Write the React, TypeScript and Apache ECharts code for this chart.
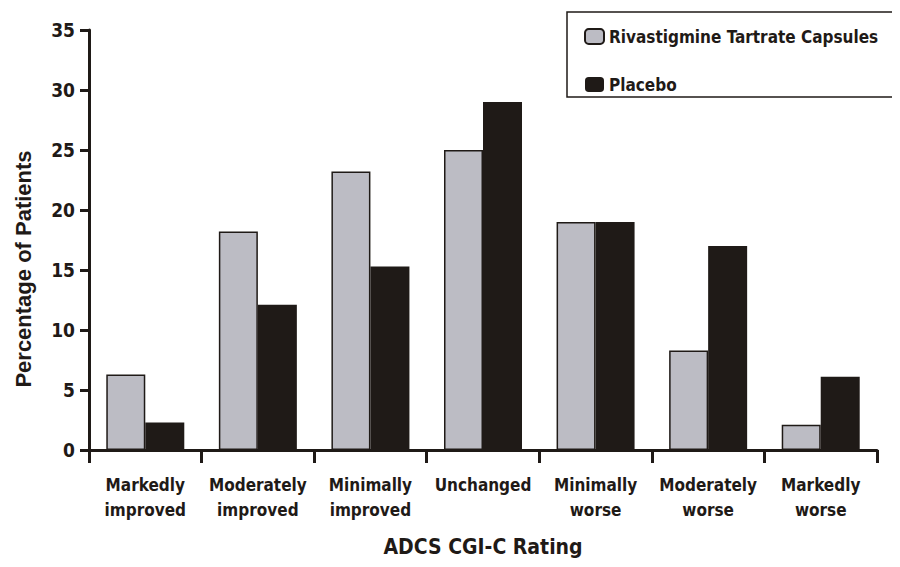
import React, { useEffect, useRef } from "react";
import * as echarts from "echarts";

const categories = [
  "Markedly\nimproved",
  "Moderately\nimproved",
  "Minimally\nimproved",
  "Unchanged",
  "Minimally\nworse",
  "Moderately\nworse",
  "Markedly\nworse",
];
const rivastigmine = [6.3, 18.2, 23.2, 25.0, 19.0, 8.3, 2.1];
const placebo = [2.3, 12.1, 15.3, 29.0, 19.0, 17.0, 6.1];
const seriesNames = ["Rivastigmine Tartrate Capsules", "Placebo"];
const xTitle = "ADCS CGI-C Rating";
const yTitle = "Percentage of Patients";

const COND = '"Liberation Sans Narrow", "DejaVu Sans Condensed", "Arial Narrow", sans-serif';
const INK = "#1f1a17";

export default function App() {
  const ref = useRef<HTMLDivElement>(null);
  useEffect(() => {
    if (!ref.current) return;
    const chart = echarts.init(ref.current, undefined, { renderer: "svg" });
    chart.setOption({
      animation: false,
      backgroundColor: "#ffffff",
      grid: { left: 89, right: 23, top: 30, bottom: 117, containLabel: false },
      legend: {
        orient: "vertical",
        left: 584,
        top: 28,
        padding: 0,
        itemWidth: 19,
        itemHeight: 15,
        itemGap: 31,
        textStyle: { fontFamily: COND, fontWeight: "bold", fontSize: 17, color: INK },
        data: seriesNames,
      },
      graphic: [
        {
          type: "rect",
          shape: { x: 567, y: 12, width: 329, height: 85 },
          style: { fill: "none", stroke: INK, lineWidth: 1.5 },
          z: 10,
        },
        {
          type: "text",
          x: 23,
          y: 269,
          rotation: Math.PI / 2,
          style: {
            text: yTitle,
            fontFamily: "Arial, 'Liberation Sans', sans-serif",
            fontWeight: "bold",
            fontSize: 22,
            fill: INK,
            textAlign: "center",
            textVerticalAlign: "middle",
          },
        },
      ],
      xAxis: {
        type: "category",
        data: categories,
        name: xTitle,
        nameLocation: "middle",
        nameGap: 86,
        nameTextStyle: { fontFamily: COND, fontWeight: "bold", fontSize: 21, color: INK },
        axisLine: { lineStyle: { color: INK, width: 3 } },
        axisTick: { show: true, length: 13, lineStyle: { color: INK, width: 3 } },
        axisLabel: {
          fontFamily: COND,
          fontWeight: "bold",
          fontSize: 17,
          color: INK,
          margin: 22,
          lineHeight: 25,
          interval: 0,
        },
      },
      yAxis: {
        type: "value",
        min: 0,
        max: 35,
        interval: 5,
        splitLine: { show: false },
        axisLine: { show: true, lineStyle: { color: INK, width: 3 } },
        axisTick: { show: true, length: 9, lineStyle: { color: INK, width: 3 } },
        axisLabel: {
          fontFamily: COND,
          fontWeight: "bold",
          fontSize: 19,
          color: INK,
          margin: 14,
        },
      },
      series: [
        {
          name: seriesNames[0],
          type: "bar",
          data: rivastigmine,
          barWidth: 39,
          barGap: "0%",
          itemStyle: { color: "#bcbcc4", borderColor: INK, borderWidth: 1.5 },
        },
        {
          name: seriesNames[1],
          type: "bar",
          data: placebo,
          barWidth: 39,
          itemStyle: { color: "#1f1a17" },
        },
      ],
    });
    return () => chart.dispose();
  }, []);
  return <div ref={ref} style={{ width: 900, height: 567, margin: -8 }} />;
}
